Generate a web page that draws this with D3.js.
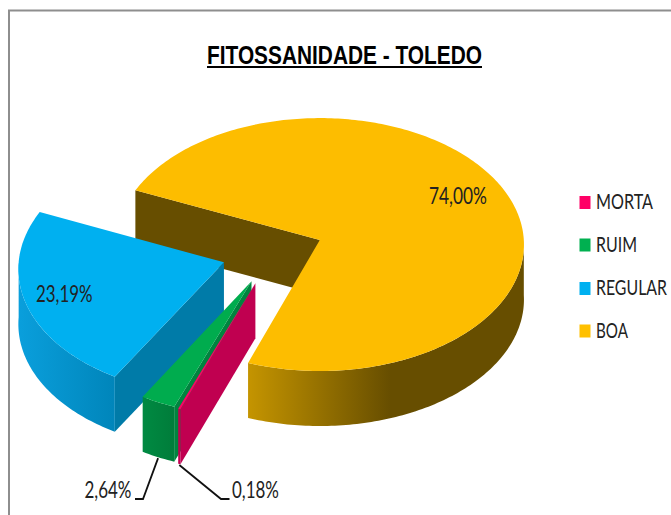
<!DOCTYPE html>
<html>
<head>
<meta charset="utf-8">
<script src="https://cdn.jsdelivr.net/npm/d3@7/dist/d3.min.js"></script>
<style>
html,body{margin:0;padding:0;background:#fff;overflow:hidden}
svg{display:block}
</style>
</head>
<body>
<svg id="c" width="671" height="515"></svg>
<script>
const titleText = "FITOSSANIDADE - TOLEDO";
const categories = ["BOA", "MORTA", "RUIM", "REGULAR"];
const values = [74.00, 0.18, 2.64, 23.19];
const legendOrder = ["MORTA", "RUIM", "REGULAR", "BOA"];
const topColors = ["#fdbd00", "#ff0066", "#00ac4e", "#00b0f0"];
const swatchColors = ["#ffc000", "#ff0066", "#00b050", "#00b0f0"];
const cutColors = ["#674e00", "#c00050", "#00843f", "#007ba8"];

// Layout of the tilted disc
const W = 671, H = 515;
const center = {x: 319, y: 240}, radiusX = 204, radiusY = 126.3, tilt = 0.036, depth = 55;
const startDeg = 293.5;
const shifts = {BOA: [0.004, 0], MORTA: [-0.308, 0.338], RUIM: [-0.327, 0.323], REGULAR: [-0.463, 0.176]};
const wallGrads = {
  BOA: {x1: 249, x2: 390, stops: ["#c49400", "#674e00"]},
  MORTA: {x1: 180, x2: 182, stops: ["#c00050", "#c00050"]},
  RUIM: {x1: 142, x2: 175, stops: ["#008a42", "#007c3a"]},
  REGULAR: {x1: 18, x2: 116, stops: ["#0a9fdc", "#0085ba"]}
};
const labelPos = {
  BOA: {x: 429, x2: 487, y: 203.5},
  REGULAR: {x: 36, x2: 92.5, y: 301.5},
  RUIM: {x: 84.5, x2: 131.5, y: 498, elbow: [[135, 499], [143, 499]]},
  MORTA: {x: 232, x2: 279, y: 498, elbow: [[229.5, 499], [221, 499]]}
};
const legendRows = {
  MORTA: {base: 209, x2: 653},
  RUIM: {base: 251.5, x2: 637},
  REGULAR: {base: 295, x2: 667},
  BOA: {base: 337.5, x2: 628}
};

const svg = d3.select("#c");
const defs = svg.append("defs");
svg.append("rect").attr("width", W).attr("height", H).attr("fill", "#fff");

// chart frame (runs off the picture on the right and bottom)
svg.append("path").attr("d", "M9,515V10.5H671").attr("fill", "none").attr("stroke", "#8e8e8e").attr("stroke-width", 2);

const rad = d => d * Math.PI / 180;
const xScale = d3.scaleLinear().domain([-1, 1]).range([center.x - radiusX, center.x + radiusX]);
const yScale = d3.scaleLinear().domain([-1, 1]).range([center.y - radiusY, center.y + radiusY]);
function project(u, v, drop = 0) {
  const w = 1 - tilt * v;
  return [xScale(u / w), yScale(v / w) + drop];
}
function rim(name, angle, drop = 0) {
  const s = shifts[name];
  return project(s[0] + Math.sin(angle), s[1] - Math.cos(angle), drop);
}
function apex(name, drop = 0) {
  const s = shifts[name];
  return project(s[0], s[1], drop);
}
function arcAngles(a0, a1) {
  const n = Math.max(2, Math.ceil((a1 - a0) / rad(1)));
  return d3.range(n + 1).map(i => a0 + (a1 - a0) * i / n);
}
const line = d3.line().curve(d3.curveLinear);
const closed = pts => line(pts) + "Z";

const pie = d3.pie().sort(null).value(d => d.value)
  .startAngle(rad(startDeg)).endAngle(rad(startDeg + 360));
const rows = categories.map((c, i) => ({name: c, value: values[i], top: topColors[i], cut: cutColors[i]}));
const arcs = pie(rows);

// paint order: back to front
const paintOrder = ["BOA", "REGULAR", "RUIM", "MORTA"];
paintOrder.forEach(name => {
  const a = arcs.find(d => d.data.name === name);
  const g = svg.append("g");

  const gr = wallGrads[name];
  const id = "wall-" + name;
  const lg = defs.append("linearGradient").attr("id", id).attr("gradientUnits", "userSpaceOnUse")
    .attr("x1", gr.x1).attr("x2", gr.x2).attr("y1", 0).attr("y2", 0);
  gr.stops.forEach((c, i) => lg.append("stop").attr("offset", i).attr("stop-color", c));

  // cut wall along the slice's starting edge
  const tip = rim(name, a.startAngle), tipD = rim(name, a.startAngle, depth);
  g.append("path").attr("d", closed([apex(name), tip, tipD, apex(name, depth)]))
    .attr("fill", a.data.cut);

  // outer wall: only the part of the rim that faces the viewer
  const full = rad(360);
  let from = a.startAngle, to = a.endAngle;
  let lo = rad(90), hi = rad(270);
  if (from > full) { from -= full; to -= full; }
  if (to > full) { lo += full; hi += full; }
  const wa = Math.max(from, lo), wb = Math.min(to, hi);
  if (wb > wa) {
    const angs = arcAngles(wa, wb);
    const pts = angs.map(t => rim(name, t)).concat(angs.slice().reverse().map(t => rim(name, t, depth)));
    g.append("path").attr("d", closed(pts)).attr("fill", `url(#${id})`);
  }

  // top face
  const topPts = [apex(name)].concat(arcAngles(a.startAngle, a.endAngle).map(t => rim(name, t)));
  g.append("path").attr("d", closed(topPts)).attr("fill", a.data.top);
});

const fmt = d3.formatLocale({decimal: ",", thousands: ".", grouping: [3], currency: ["", ""]}).format(".2f");
const labelFont = "Lato, 'Open Sans', sans-serif";

// the reference's text is horizontally squeezed: fit each string to its span
function fitted(str, x, x2, y, font, size, weight, fill) {
  const t = svg.append("text").attr("font-family", font).attr("font-size", size)
    .attr("font-weight", weight).attr("fill", fill).text(str);
  const len = t.node().getComputedTextLength();
  t.attr("transform", `translate(${x},${y}) scale(${(x2 - x) / len},1)`);
  return t;
}

// leader lines to the two thin slices
["RUIM", "MORTA"].forEach(name => {
  const a = arcs.find(d => d.data.name === name);
  const t = (a.startAngle + a.endAngle) / 2;
  const start = rim(name, t, depth + 1);
  const el = labelPos[name].elbow;
  svg.append("path").attr("d", line([el[0], el[1], start]))
    .attr("fill", "none").attr("stroke", "#111").attr("stroke-width", 1.8);
});

// value labels
arcs.forEach(a => {
  const p = labelPos[a.data.name];
  fitted(fmt(a.data.value) + "%", p.x, p.x2, p.y, labelFont, 23, "normal", "#222");
});

// title
const titleX = [207, 482];
fitted(titleText, titleX[0], titleX[1], 63.5, "'Liberation Sans', Arial, sans-serif", 25, "bold", "#000");
svg.append("line").attr("x1", titleX[0]).attr("x2", titleX[1]).attr("y1", 67).attr("y2", 67)
  .attr("stroke", "#000").attr("stroke-width", 2);

// legend
legendOrder.forEach(name => {
  const r = legendRows[name];
  const i = categories.indexOf(name);
  svg.append("rect").attr("x", 579.5).attr("y", r.base - 13).attr("width", 11).attr("height", 13)
    .attr("fill", swatchColors[i]);
  fitted(name, 596, r.x2, r.base, labelFont, 21, "normal", "#222");
});
</script>
</body>
</html>
